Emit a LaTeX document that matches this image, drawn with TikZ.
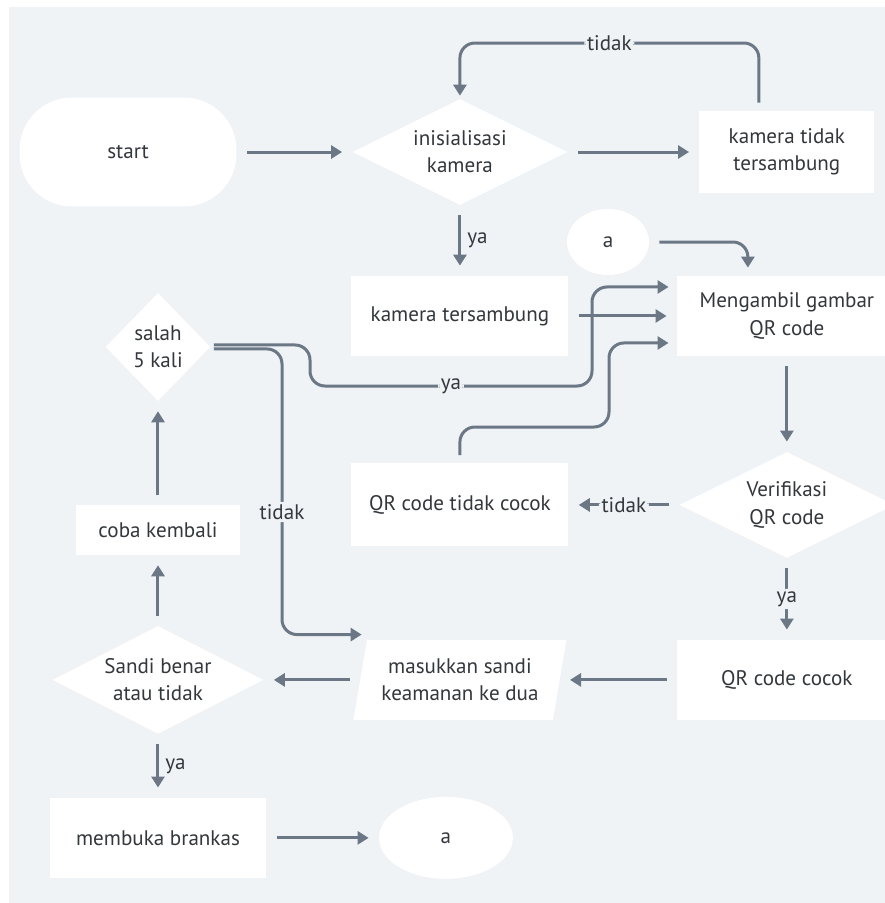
\documentclass[tikz,border=0pt]{standalone}
\usepackage{fontspec}
\setmainfont{PT Sans}
\usetikzlibrary{shapes.geometric,arrows.meta,positioning}
\definecolor{panel}{HTML}{EFF3F6}
\definecolor{wire}{HTML}{6B7785}
\definecolor{ink}{HTML}{33383D}
\tikzstyle{brick} = [rectangle, fill=white, text=ink, align=center, minimum width=4.34cm, minimum height=1.6cm]
\tikzstyle{terminal} = [rectangle, rounded corners=1.05cm, fill=white, text=ink, minimum width=4.34cm, minimum height=2.18cm]
\tikzstyle{decision} = [diamond, aspect=2, fill=white, text=ink, align=center, inner sep=0pt, minimum width=4.3cm, minimum height=2.12cm]
\tikzstyle{entry} = [trapezium, trapezium left angle=76, trapezium right angle=104, trapezium stretches body, fill=white, text=ink, align=center, minimum width=4.26cm, minimum height=1.6cm]
\tikzstyle{joint} = [ellipse, fill=white, text=ink]
\tikzstyle{flow} = [draw=wire, line width=0.06cm, ->, >={Triangle[length=0.22cm,width=0.26cm]}, shorten >=0.2cm, shorten <=0.2cm, rounded corners=0.3cm]
\tikzstyle{tag} = [fill=panel, text=ink, inner sep=1.5pt]

\begin{document}
\begin{tikzpicture}[x=0.02cm, y=-0.02cm, font=\fontsize{12}{15.5}\selectfont]
        \clip (0,0) rectangle (885,903);
        \fill [white] (0,0) rectangle (885,903);
        \fill [panel] (9,7) rectangle (885,903);

        \node (start) [terminal] at (128,152) {start};
        \node (init) [decision, right of=start, node distance=6.64cm] {inisialisasi\\kamera};
        \node (kt) [brick, minimum width=3.5cm, minimum height=1.64cm, right of=init, node distance=6.54cm] {kamera tidak\\tersambung};
        \node (kts) [brick, below of=init, node distance=3.28cm] {kamera tersambung};
        \node (ambil) [brick, minimum width=4.4cm, right of=kts, node distance=6.54cm] {Mengambil gambar\\QR code};
        \node (a1) [joint, minimum width=1.64cm, minimum height=1.32cm] at (608,242) {a};
        \node (verif) [decision, below of=ambil, node distance=3.78cm] {Verifikasi\\QR code};
        \node (qrt) [brick, minimum height=1.66cm, left of=verif, node distance=6.54cm] {QR code tidak cocok};
        \node (cocok) [brick, minimum width=4.4cm, below of=verif, node distance=3.5cm] {QR code cocok};
        \node (masuk) [entry, left of=cocok, node distance=6.54cm] {masukkan sandi\\keamanan ke dua};
        \node (sandi) [decision, minimum width=4.22cm, minimum height=2.16cm, left of=masuk, node distance=6.04cm] {Sandi benar\\atau tidak};
        \node (coba) [brick, minimum width=3.28cm, minimum height=1cm, above of=sandi, node distance=3cm] {coba kembali};
        \node (salah) [decision, aspect=1, minimum width=2.1cm, minimum height=2.16cm, above of=coba, node distance=3.66cm] {salah\\5 kali};
        \node (buka) [brick, below of=sandi, node distance=3.16cm] {membuka brankas};
        \node (a2) [joint, minimum width=2.68cm, minimum height=1.64cm, right of=buka, node distance=5.76cm] {a};
        \coordinate (looptop) at (612,43);

        % top row
        \draw [flow] (start) -- (init);
        \draw [flow] (init) -- (kt);
        \draw [flow, shorten <=0.16cm, shorten >=0.06cm] ([xshift=-0.56cm]kt.north) |- node[tag, pos=0.75] (t1) {tidak} (init.north |- looptop) -- (init.north);
        \draw [flow] (init) -- node[right, text=ink] (y1) {ya} (kts);
        \draw [flow, shorten >=0.16cm] (a1) -| ([xshift=-0.78cm]ambil.north);

        % into Mengambil gambar
        \draw [flow] (kts) -- (ambil);
        \draw [flow, shorten <=0.06cm, shorten >=0.16cm] ([yshift=0.04cm]salah.east) -| (310,386) -- node[tag] (y2) {ya} (592,386) |- ([yshift=0.58cm]ambil.west);
        \draw [flow, shorten <=0.16cm, shorten >=0.16cm] (qrt.north) |- (609,427) |- ([yshift=-0.54cm]ambil.west);

        % verification
        \draw [flow] (ambil) -- (verif);
        \draw [flow] (verif) -- node[tag] (t3) {tidak} (qrt);
        \draw [flow] (verif) -- node[tag] (y3) {ya} (cocok);
        \draw [flow] (cocok) -- (masuk.right side);
        \draw [flow] (masuk.left side) -- (sandi);

        % password loop
        \draw [flow] (sandi) -- (coba);
        \draw [flow] (coba) -- (salah);
        \draw [flow, shorten <=0.06cm, shorten >=0.1cm] ([yshift=-0.04cm]salah.east) -| (282,512) node[tag] (t2) {tidak} |- ([yshift=0.1cm]masuk.top left corner);
        \draw [flow] (sandi) -- node[right, text=ink] (y4) {ya} (buka);
        \draw [flow] (buka) -- (a2);
\end{tikzpicture}
\end{document}
